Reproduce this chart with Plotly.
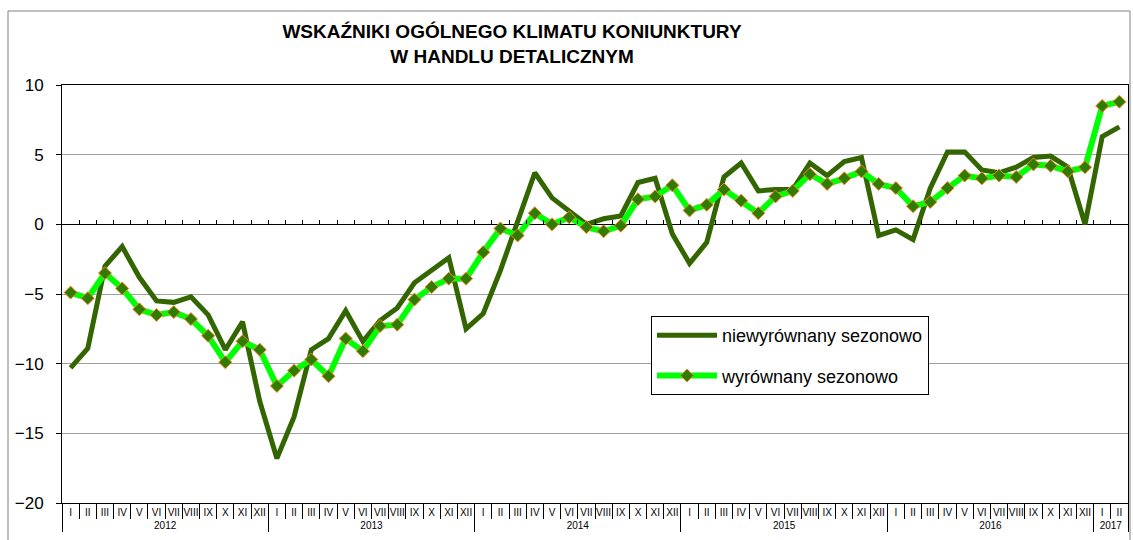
import plotly.graph_objects as go

month_names = ['I', 'II', 'III', 'IV', 'V', 'VI', 'VII', 'VIII', 'IX', 'X', 'XI', 'XII']
years = ['2012'] * 12 + ['2013'] * 12 + ['2014'] * 12 + ['2015'] * 12 + ['2016'] * 12 + ['2017'] * 2
months = month_names * 5 + ['I', 'II']

unadjusted = [
    -10.3, -8.9, -3.0, -1.6, -3.8, -5.5, -5.6, -5.2, -6.5, -9.0, -7.0, -12.7,
    -16.8, -13.8, -9.0, -8.2, -6.2, -8.4, -6.9, -6.0, -4.2, -3.3, -2.4, -7.5,
    -6.4, -3.3, 0.2, 3.7, 1.9, 1.0, 0.0, 0.4, 0.6, 3.0, 3.3, -0.7,
    -2.8, -1.3, 3.4, 4.4, 2.4, 2.5, 2.5, 4.4, 3.5, 4.5, 4.8, -0.8,
    -0.4, -1.1, 2.6, 5.2, 5.2, 3.9, 3.7, 4.1, 4.8, 4.9, 4.1, 0.0,
    6.3, 7.0,
]
adjusted = [
    -4.9, -5.3, -3.5, -4.6, -6.1, -6.5, -6.3, -6.8, -8.0, -9.9, -8.4, -9.0,
    -11.6, -10.5, -9.7, -10.9, -8.2, -9.1, -7.3, -7.2, -5.4, -4.5, -3.9, -3.9,
    -2.0, -0.3, -0.8, 0.8, 0.0, 0.5, -0.2, -0.5, -0.1, 1.8, 2.0, 2.8,
    1.0, 1.4, 2.5, 1.7, 0.8, 2.0, 2.4, 3.6, 2.9, 3.3, 3.8, 2.9,
    2.6, 1.3, 1.6, 2.6, 3.5, 3.3, 3.5, 3.4, 4.3, 4.2, 3.8, 4.1,
    8.5, 8.8,
]
series_names = ['niewyrównany sezonowo', 'wyrównany sezonowo']
title_lines = ['WSKAŹNIKI OGÓLNEGO KLIMATU KONIUNKTURY', 'W HANDLU DETALICZNYM']

FONT = 'Liberation Sans, Arial, sans-serif'
W, H = 1133, 540
ML, MR, MT, MB = 62, 5, 85, 37
PW, PH = W - ML - MR, H - MT - MB

fig = go.Figure()
fig.add_trace(go.Scatter(
    x=[years, months], y=unadjusted, name=series_names[0], mode='lines',
    line=dict(color='#336600', width=5), legendgroup='a',
))
fig.add_trace(go.Scatter(
    x=[years, months], y=adjusted, name=series_names[1], mode='lines+markers',
    line=dict(color='#00FF00', width=6), legendgroup='b',
    marker=dict(symbol='diamond', size=10, color='#2E7D00',
                line=dict(color='#FF7F27', width=1)),
))
# invisible helper trace for the tick marks along the zero line
fig.add_trace(go.Scatter(
    x=list(range(len(months))), y=adjusted, xaxis='x2', mode='lines',
    line=dict(width=0), opacity=0, showlegend=False, hoverinfo='skip',
))

fig.update_layout(
    width=W, height=H,
    margin=dict(l=ML, r=MR, t=MT, b=MB),
    paper_bgcolor='white', plot_bgcolor='white',
    font=dict(family=FONT, color='black', size=16),
    title=dict(
        text='<b>' + '<br>'.join(title_lines) + '</b>',
        x=512 / W, xref='container', xanchor='center',
        y=1 - 38 / H, yref='container', yanchor='top',
        font=dict(size=19, family=FONT, color='black'),
    ),
    xaxis=dict(
        type='multicategory', range=[-0.5, len(months) - 0.5],
        showline=True, linecolor='black', linewidth=1, mirror=True,
        ticks='outside', tickson='boundaries', ticklen=15, tickcolor='black',
        showdividers=True, dividercolor='black', dividerwidth=1,
        showgrid=False, tickfont=dict(size=10), tickangle=0,
    ),
    xaxis2=dict(
        overlaying='x', anchor='free', position=20 / 30, side='bottom',
        range=[-0.5, len(months) - 0.5], tick0=-0.5, dtick=1,
        ticks='inside', ticklen=4, tickcolor='black', showticklabels=False,
        showline=False, showgrid=False, zeroline=False,
    ),
    yaxis=dict(
        range=[-20, 10], dtick=5, showgrid=True, gridcolor='#A0A0A0', gridwidth=1,
        zeroline=True, zerolinecolor='black', zerolinewidth=1,
        showline=True, linecolor='black', linewidth=1, mirror=True,
        ticks='outside', ticklen=5, tickcolor='black',
        tickfont=dict(size=17), ticklabelstandoff=9,
    ),
    legend=dict(
        x=(651 - ML) / PW, y=(H - MB - 316) / PH,
        xanchor='left', yanchor='top',
        bgcolor='white', bordercolor='black', borderwidth=1,
        font=dict(size=18), traceorder='grouped', tracegroupgap=14,
        itemwidth=60, entrywidth=300, entrywidthmode='pixels',
    ),
    shapes=[dict(
        type='rect', xref='paper', yref='paper',
        x0=(8 - ML) / PW, x1=(1130 - ML) / PW,
        y0=-0.3, y1=(H - MB - 11) / PH,
        line=dict(color='#808080', width=1), layer='below',
    )],
)

fig.write_html(
    'out.html',
    config={'displayModeBar': False},
    post_script="document.body.style.margin='0';document.body.style.overflow='hidden';",
)
